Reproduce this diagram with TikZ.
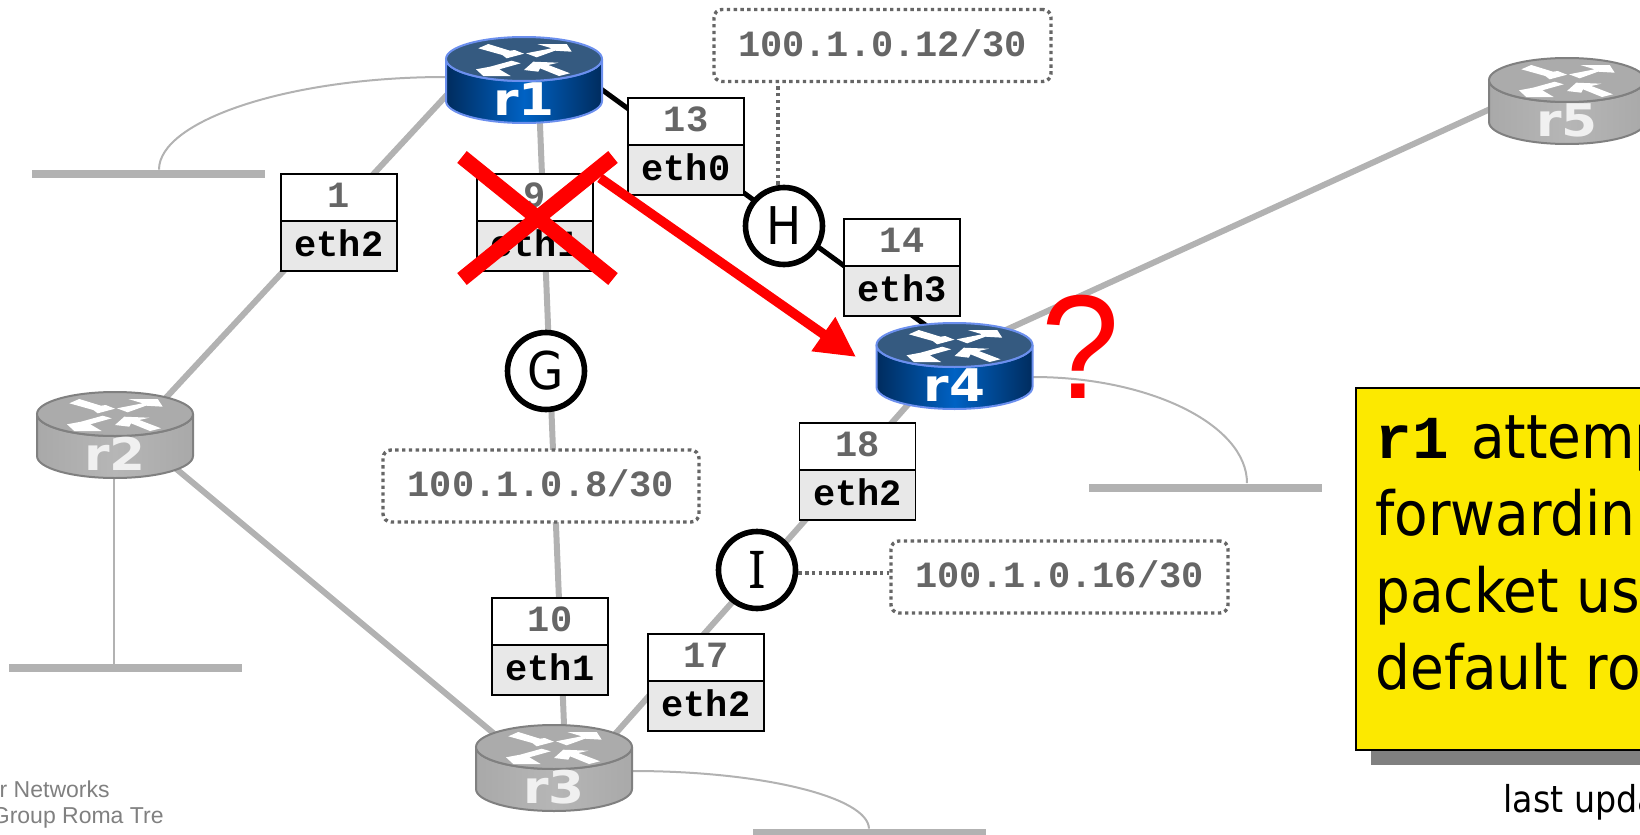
\documentclass[tikz,border=0pt]{standalone}
\usepackage{fontspec}
\setmainfont{DejaVu Sans Condensed}
\setmonofont{Liberation Mono}
\newfontfamily\arialfont{Liberation Sans}
\newfontfamily\routerfont{DejaVu Sans}
\newfontfamily\barfont{Noto Sans}
\usetikzlibrary{positioning,calc,backgrounds,arrows.meta}

\definecolor{blueedge}{HTML}{6B8FEE}
\definecolor{bluetop}{HTML}{355A80}
\definecolor{blueside}{HTML}{002C5E}
\definecolor{bluemid}{HTML}{0062C4}
\definecolor{bluetext}{HTML}{FFFFFF}
\definecolor{grayedge}{HTML}{808080}
\definecolor{graytop}{HTML}{ABABAB}
\definecolor{grayside}{HTML}{A9A9A9}
\definecolor{graymid}{HTML}{B6B6B6}
\definecolor{graytext}{HTML}{F0F0F0}
\definecolor{linkgray}{HTML}{B2B2B2}
\definecolor{notefill}{HTML}{FCE900}

\tikzset{
	routerlabel/.style={inner sep=0pt, xscale=1.15, font=\routerfont\bfseries\fontsize{22.5}{24}\selectfont},
	numbox/.style={draw, fill=white, line width=0.8pt, anchor=north, inner sep=0pt, outer sep=0pt, minimum width=58pt, minimum height=23.5pt, text depth=2.5pt, text=black!60, font=\ttfamily\bfseries\fontsize{18.5}{20}\selectfont},
	ethbox/.style={draw, fill=black!9, line width=0.8pt, inner sep=0pt, outer sep=0pt, minimum width=58pt, minimum height=25pt, text depth=2.5pt, font=\ttfamily\bfseries\fontsize{18.5}{20}\selectfont},
	ipbox/.style={draw=black!60, fill=white, line width=1.7pt, dash pattern=on 1.7pt off 1.7pt, rounded corners=4pt, inner sep=0pt, minimum height=36pt, text depth=2.5pt, text=black!60, font=\ttfamily\bfseries\fontsize{18.5}{20}\selectfont},
	dotlink/.style={draw=black!60, line width=1.7pt, dash pattern=on 1.7pt off 1.7pt},
	subnet/.style={draw, fill=white, circle, line width=2.8pt, minimum size=38.5pt, inner sep=0pt, font=\fontsize{26}{30}\selectfont},
	graylink/.style={draw=linkgray, line width=3pt},
	blacklink/.style={draw=black, line width=2.5pt},
	thinlink/.style={draw=linkgray, line width=1pt},
	lanbar/.style={fill=linkgray, inner sep=0pt, minimum width=116.5pt, minimum height=4pt},
	crossline/.style={draw=red, line width=7.6pt},
}

% #1 name, #2 position, #3 colour prefix, #4 text
\newcommand{\router}[4]{
	\begin{scope}[shift={#2}]
		\fill[left color=#3side, right color=#3side, middle color=#3mid, draw=#3edge, line width=1pt]
			(-78,-21) -- (-78,21) arc[start angle=180, end angle=360, x radius=39pt, y radius=11pt] -- (78,-21)
			arc[start angle=360, end angle=180, x radius=39pt, y radius=11pt] -- cycle;
		\draw[fill=#3top, draw=#3edge, line width=1pt] (0,-21) ellipse[x radius=39pt, y radius=11pt];
		\begin{scope}[shift={(0,-21)}]
			\fill[white] (0,-5.3) -- (-9.3,-9) -- (-14,-8.3) -- (-35.7,-15) -- (-45.7,-10.7) -- (-21.7,-4) -- (-17.3,-.7) -- cycle;
			\fill[white] (2,-5.7) -- (27.7,-10.7) -- (13.3,-15) -- (42.7,-15) -- (47.7,-7.3) -- (31,-8.3) -- (12.7,-1.7) -- cycle;
			\fill[white] (-48,10.3) -- (-34,7.7) -- (-12.3,1.7) -- (-3.3,4.3) -- (-24.7,10.3) -- (-13.3,17) -- (-40.7,17) -- cycle;
			\fill[white] (0,11) -- (9.3,2.7) -- (34.3,3.7) -- (24.3,6) -- (46,14.3) -- (35,17) -- (16,9.3) -- (14.3,12.7) -- cycle;
		\end{scope}
		\node[inner sep=0pt, minimum width=78pt, minimum height=43pt] (#1) at (0,0) {};
		\node[routerlabel, text=#3text] (#1text) at (0,19) {#4};
	\end{scope}
}

% #1 name, #2 position, #3 number, #4 interface
\newcommand{\iface}[4]{
	\node[numbox] (n#1) at #2 {#3};
	\node[ethbox, below=0pt of n#1] (e#1) {#4};
}

\begin{document}
\begin{tikzpicture}[x=0.5pt, y=-0.5pt]
	\useasboundingbox (0,0) rectangle (1640,835);

	%router
	\router{r1}{(524,80)}{blue}{r1}
	\router{r2}{(115,435)}{gray}{r2}
	\router{r3}{(554,768)}{gray}{r3}
	\router{r4}{(954.5,366)}{blue}{r4}
	\router{r5}{(1567,101)}{gray}{r5}

	%lans
	\node[lanbar] (lan1) at (148.5,174) {};
	\node[lanbar] (lan2) at (125.5,668) {};
	\node[lanbar] (lan3) at (869,833) {};
	\node[lanbar] (lan4) at (1205,487.5) {};

	%collision domains
	\node[subnet] (G) at (546,371) {G};
	\node[subnet] (H) at (784,226) {H};
	\node[subnet, font=\barfont\fontsize{26}{30}\selectfont] (I) at (757,570) {I};

	\node[ipbox, minimum width=168.5pt] (ip12) at (882.5,45.5) {100.1.0.12/30};
	\node[ipbox, minimum width=158pt] (ip8) at (541,486) {100.1.0.8/30};
	\node[ipbox, minimum width=168.5pt] (ip16) at (1059.5,577) {100.1.0.16/30};

	%interfaces
	\iface{a}{(339,174)}{1}{eth2}
	\iface{b}{(535,174)}{9}{eth1}
	\iface{c}{(686,98)}{13}{eth0}
	\iface{d}{(902,219)}{14}{eth3}
	\iface{e}{(857.5,423)}{18}{eth2}
	\iface{f}{(550,598)}{10}{eth1}
	\iface{g}{(706,634)}{17}{eth2}

	%links
	\begin{scope}[on background layer]
		\draw[graylink] ($(r1)+(-54,-10)$) -- ($(r2)+(22,-6)$);
		\draw[graylink] ($(r1)+(15,20)$) -- ($(r3)+(11,-18)$);
		\draw[graylink] ($(r4)+(-30,20)$) -- ($(r3)+(46,-17)$);
		\draw[graylink] ($(r4)+(36,-29)$) -- ($(r5)+(-57,-1)$);
		\draw[graylink] ($(r2)+(35,12)$) -- ($(r3)+(-44,-21)$);
		\draw[blacklink] ($(r1)+(66,1)$) -- ($(r4)+(-25,-38)$);
		\draw[thinlink] (r1.west) ++(0,-3) .. controls (288,77) and (159,121) .. ($(lan1.north)+(10.5,0)$);
		\draw[thinlink] ($(r2.south)+(-1,0)$) -- ($(r2.south |- lan2.north)+(-1,0)$);
		\draw[thinlink] (r3.east) ++(0,3) .. controls (762,771) and (868,797) .. (lan3.north);
		\draw[thinlink] (r4.east) ++(0,11) .. controls (1150,377) and (1247,425) .. ($(lan4.north)+(42,0)$);
	\end{scope}

	\coordinate (Hup) at ($(H.north)+(-6,0)$);
	\coordinate (Iout) at ($(I.east)+(0,3)$);
	\draw[dotlink] (Hup) -- (Hup |- ip12.south);
	\draw[dotlink] (Iout) -- (Iout -| ip16.west);

	%failure
	\coordinate (redstart) at (600,178);
	\draw[draw=red, line width=4.8pt, -{Triangle[length=20pt,width=19.5pt]}] (redstart) -- ($(r4.west)+(-20,-9)$);
	\coordinate (xa) at (462,157);
	\coordinate (xb) at (613,279);
	\coordinate (xc) at (613,157);
	\coordinate (xd) at (462,279);
	\draw[crossline] (xa) -- (xb);
	\draw[crossline] (xc) -- (xd);
	\node[text=red, inner sep=0pt, xscale=0.95, font=\arialfont\fontsize{74}{74}\selectfont] (qmark) at (1081,347) {?};

	%note
	\node[fill=black!50, inner sep=0pt, anchor=north west, minimum width=300pt, minimum height=181pt] (noteshadow) at (1371,403) {};
	\node[draw, fill=notefill, line width=0.8pt, inner sep=0pt, anchor=north west, minimum width=300pt, minimum height=181pt] (note) at (1355,387) {};
	\node[inner sep=0pt, anchor=north west, align=left, font=\fontsize{30.5}{38.5}\selectfont] (notetext) at (1375,415)
		{{\ttfamily\bfseries r1}\hspace{2.5pt} attemp\\forwardin\\packet us\\default ro};
	\node[inner sep=0pt, anchor=base west, font=\fontsize{18.5}{22}\selectfont] (updated) at (1503,812) {last upda};

	%footer
	\node[inner sep=0pt, anchor=base east, text=black!50, font=\arialfont\fontsize{11.5}{12}\selectfont] (footera) at (110,797) {r Networks};
	\node[inner sep=0pt, anchor=base east, text=black!50, font=\arialfont\fontsize{11.5}{12}\selectfont] (footerb) at (164,823) {Group Roma Tre};
\end{tikzpicture}
\end{document}
